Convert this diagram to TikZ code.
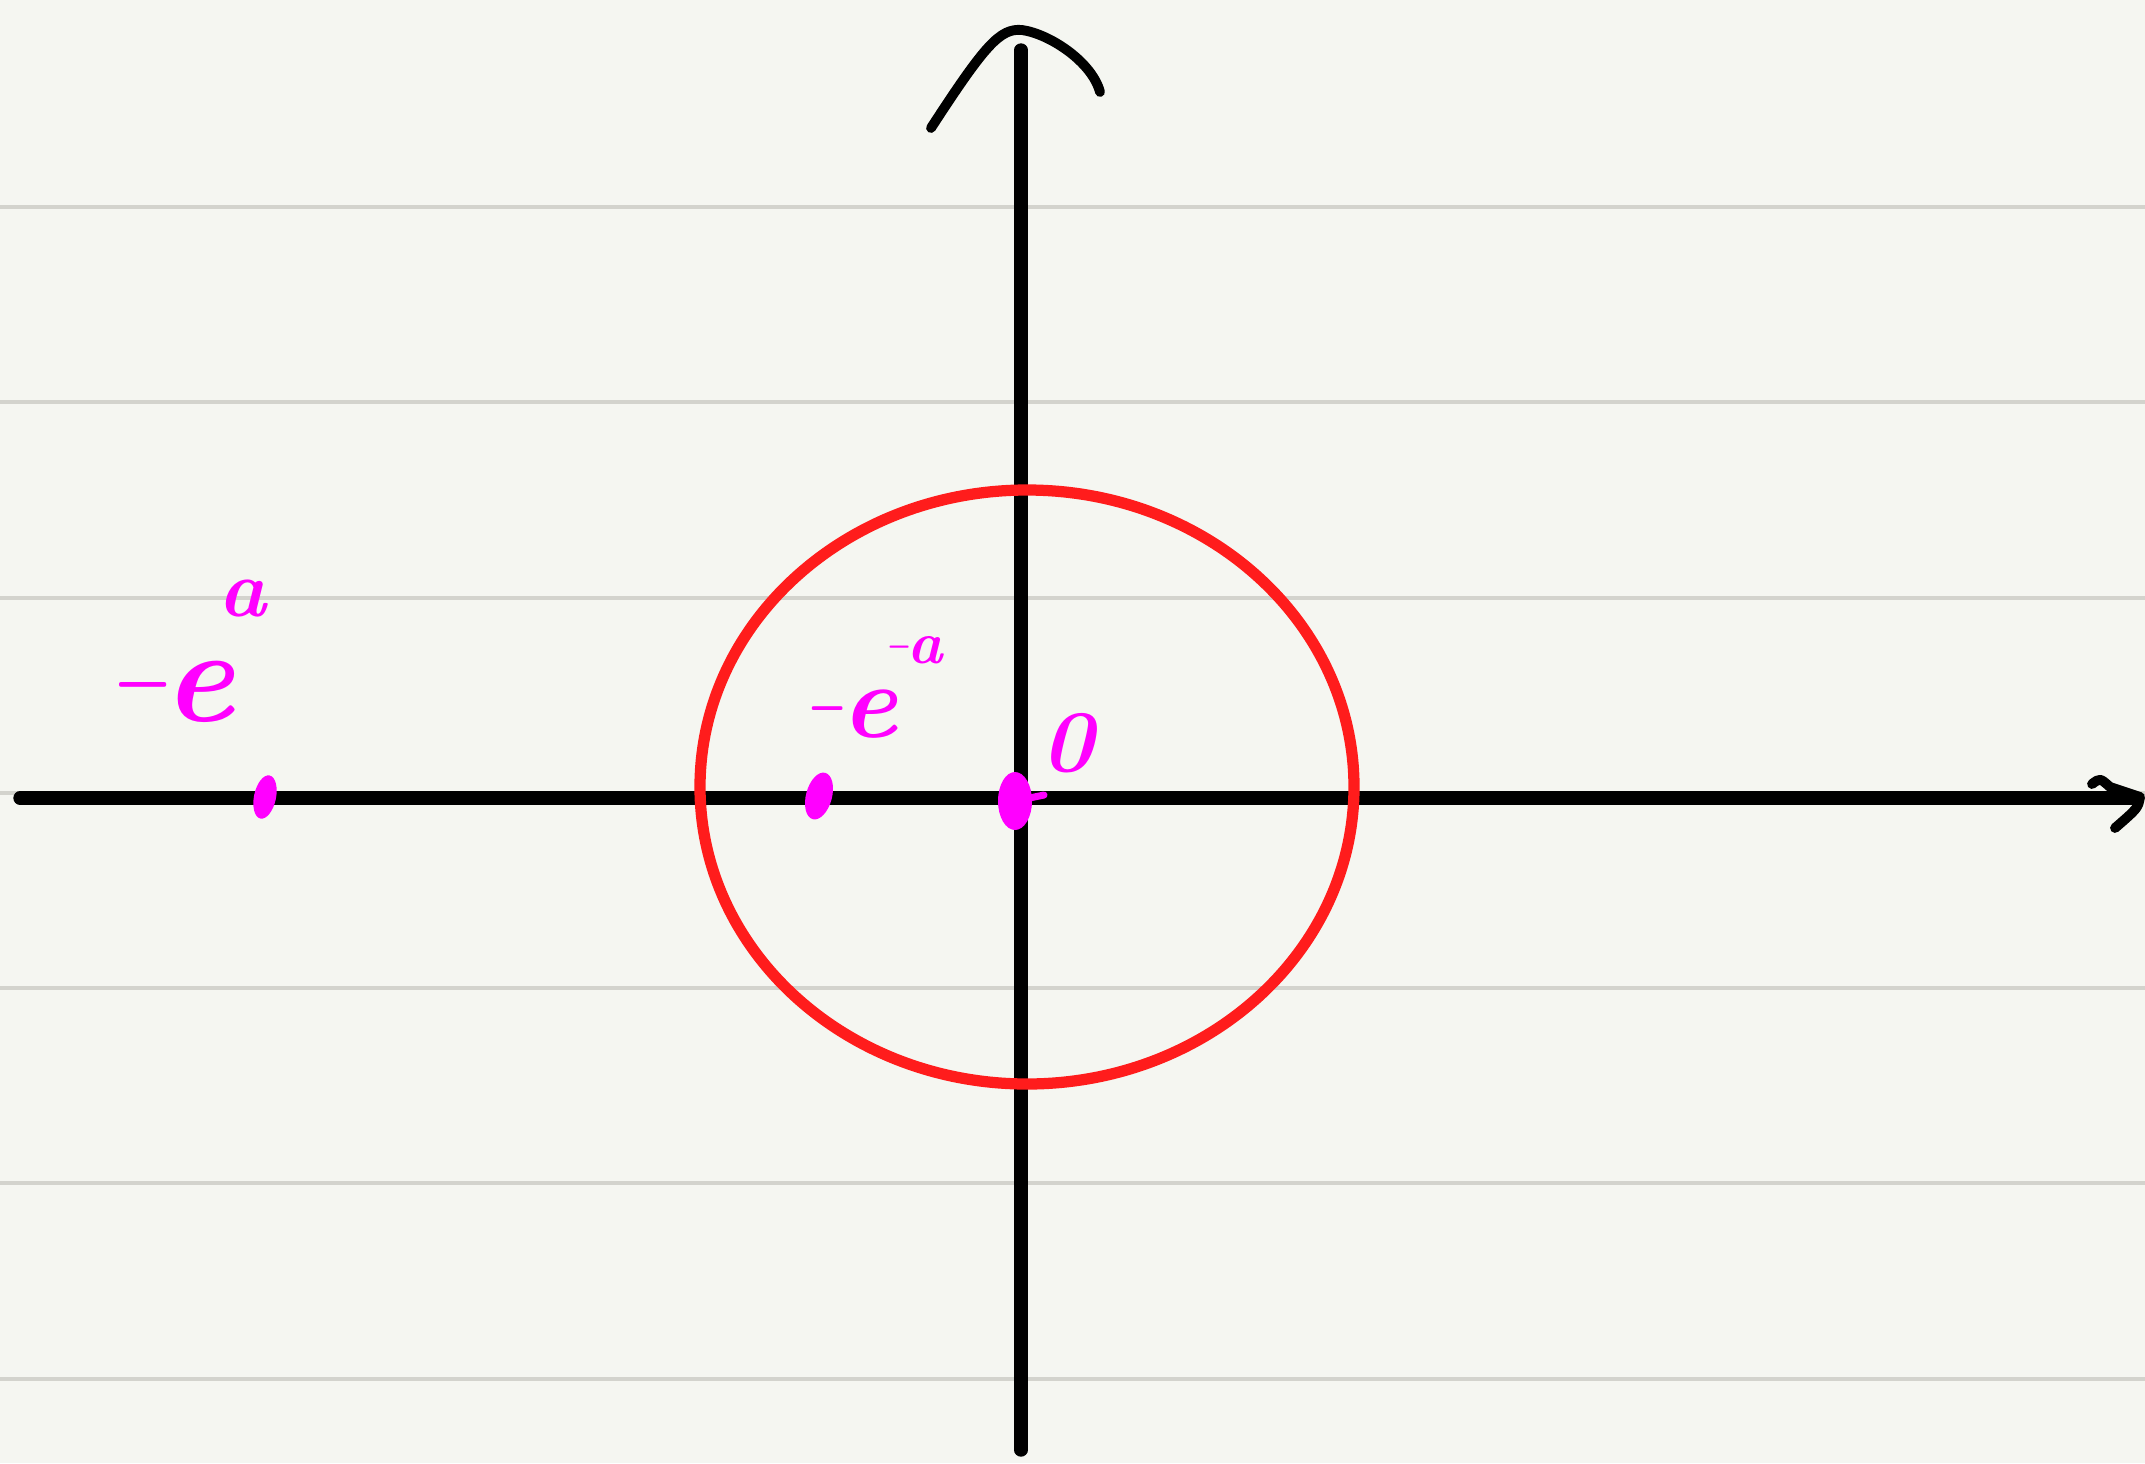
\documentclass[tikz,border=0pt]{standalone}
\usepackage{graphicx}
\usepackage{tikz}
\definecolor{PaperBg}{RGB}{245,246,241}
\definecolor{RuleGray}{RGB}{211,211,205}
\definecolor{InkRed}{RGB}{255,28,28}
\definecolor{InkPink}{RGB}{255,0,255}
\newcommand{\dashmark}[1]{\scalebox{#1}[1]{--}}

\begin{document}
\begin{tikzpicture}[
    x=0.01cm, y=-0.01cm,
    rule/.style={RuleGray, line width=1.2pt},
    axis/.style={black, line width=3.8pt, line cap=round},
    tipstroke/.style={black, line width=2.8pt, line cap=round, line join=round},
    orbit/.style={InkRed, line width=3.2pt},
    blob/.style={fill=InkPink},
    lbl/.style={text=InkPink, inner sep=0pt},
    bigtext/.style={font=\fontsize{38}{44}\selectfont\bfseries\itshape},
    midtext/.style={font=\fontsize{30}{36}\selectfont\bfseries\itshape},
    smalltext/.style={font=\fontsize{25}{30}\selectfont\bfseries\itshape}
  ]
    \fill[PaperBg] (0,0) rectangle (2145,1463);
    \useasboundingbox (0,0) rectangle (2145,1463);
    % ruled paper
    \foreach \y in {207,402,598,793,988,1183,1379}
      \draw[rule] (0,\y) -- (2145,\y);

    % axes
    \coordinate (xl) at (20,798);
    \coordinate (xr) at (2134,798);
    \coordinate (yb) at (1021,1450);
    \coordinate (yt) at (1021,50);
    \draw[axis] (xl) -- (xr);
    \draw[axis] (yb) -- (yt);
    \draw[tipstroke] (931,128) .. controls (985,45) and (1000,28) .. (1022,30)
                     .. controls (1050,34) and (1092,62) .. (1100,92);
    \draw[tipstroke] (2092,784) .. controls (2100,778) .. (2110,787)
                     -- (2140,797) .. controls (2138,808) .. (2115,828);

    % circle
    \coordinate (ctr) at (1027,787);
    \draw[orbit] (ctr) ellipse [x radius=327, y radius=297];

    % points on the axis
    \coordinate (pa) at (265,797);
    \coordinate (pb) at (819,796);
    \coordinate (po) at (1015,801);
    \fill[blob, rotate around={-12:(pa)}] (pa) ellipse [x radius=11, y radius=22];
    \fill[blob, rotate around={-15:(pb)}] (pb) ellipse [x radius=13, y radius=24];
    \fill[blob] (po) ellipse [x radius=17, y radius=29];
    \draw[InkPink, line width=2pt, line cap=round] (po) -- (1044,795);

    \node[lbl, bigtext, anchor=base west] (la) at (110,721)
      {\dashmark{0.67}e\kern-0.12em\raisebox{0.78em}{\fontsize{23}{26}\selectfont a}};
    \node[lbl, midtext, anchor=base west] (lb) at (806,737)
      {\dashmark{0.55}e\kern-0.1em\raisebox{0.7em}{\fontsize{17}{20}\selectfont\dashmark{0.6}a}};
    \node[lbl, smalltext] (lo) at (1067,743) {0};
  \end{tikzpicture}
\end{document}
